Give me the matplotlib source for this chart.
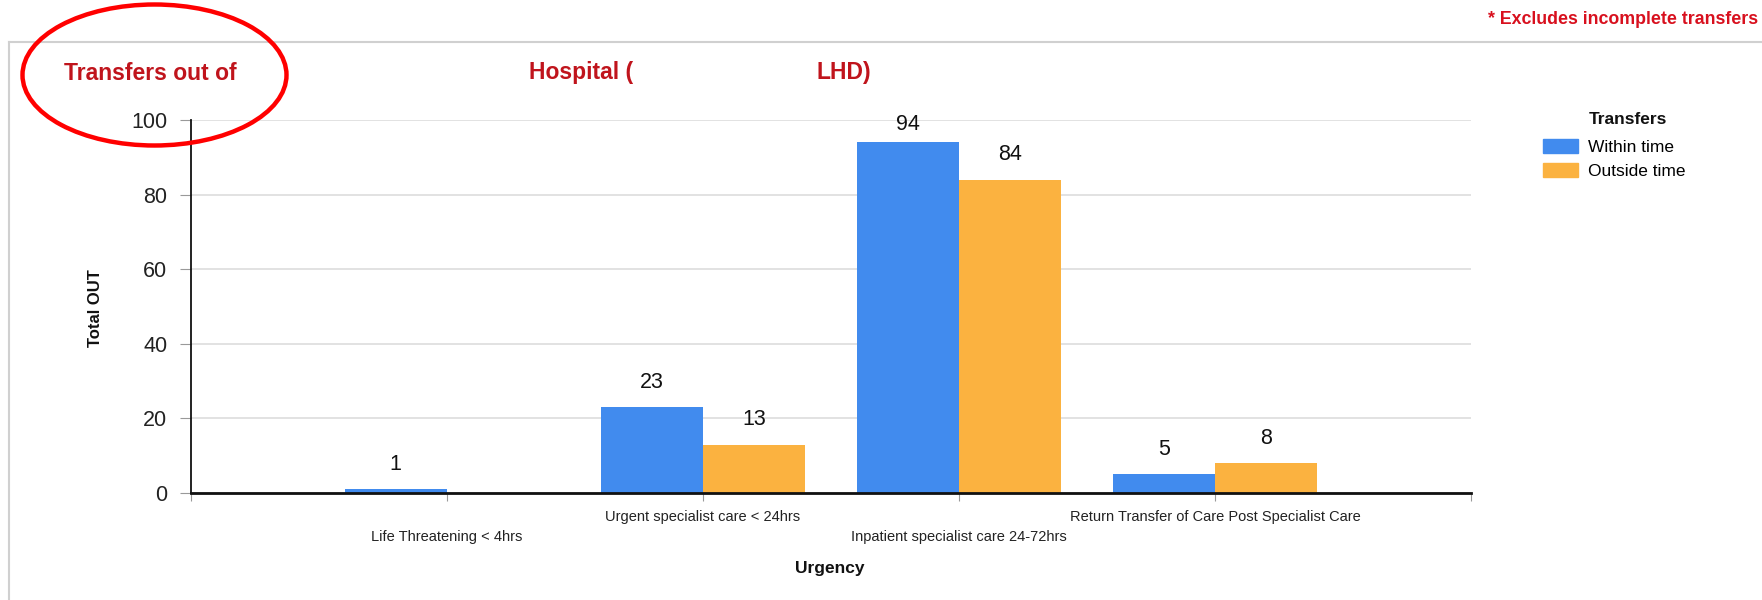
import matplotlib
matplotlib.use("Agg")
import matplotlib.pyplot as plt
import numpy as np
from matplotlib.patches import Ellipse
from matplotlib.lines import Line2D

plt.rcParams['font.family'] = ['Liberation Sans', 'DejaVu Sans']

categories = ["Life Threatening < 4hrs", "Urgent specialist care < 24hrs",
              "Inpatient specialist care 24-72hrs", "Return Transfer of Care Post Specialist Care"]
within_time = [1, 23, 94, 5]
outside_time = [0, 13, 84, 8]
series_names = ["Within time", "Outside time"]
yticks = [0, 20, 40, 60, 80, 100]

blue = '#418BEE'
orange = '#FBB240'

fig = plt.figure(figsize=(17.62, 6.0), dpi=100)
ax = fig.add_axes([191/1762, 1-493/600, (1471-191)/1762, (493-120)/600])

x = np.arange(len(categories))
w = 0.4
b1 = ax.bar(x - w/2, within_time, w, color=blue, zorder=3)
b2 = ax.bar(x + w/2, outside_time, w, color=orange, zorder=3)

for bars, vals in ((b1, within_time), (b2, outside_time)):
    for rect, v in zip(bars, vals):
        if v == 0:
            continue
        off = 18 if v < 90 else 13
        ax.annotate(str(v), (rect.get_x() + rect.get_width()/2, v),
                    xytext=(0, off), textcoords='offset points',
                    ha='center', va='center', fontsize=15.5, color='#111111',
                    annotation_clip=False)

ax.set_xlim(-1, len(categories))
ax.set_ylim(0, 100)
ax.set_yticks(yticks)
ax.set_yticklabels([str(t) for t in yticks], fontsize=15.5, color='#222222')
ax.grid(axis='y', color='#dddddd', linewidth=1.2, zorder=0)
ax.tick_params(axis='y', length=8, color='#999999', pad=9)

# x ticks: marks at boundaries and centers, staggered labels
ax.xaxis.remove_overlapping_locs = False
major_pos = [-1] + list(x) + [len(categories)]
major_labels = [''] + [c if i % 2 == 1 else '' for i, c in enumerate(categories)] + ['']
ax.set_xticks(major_pos)
ax.set_xticklabels(major_labels, fontsize=10.5, color='#222222')
ax.tick_params(axis='x', which='major', length=6, color='#999999', pad=6)
minor_pos = [p for i, p in enumerate(x) if i % 2 == 0]
ax.set_xticks(minor_pos, minor=True)
ax.set_xticklabels([categories[i] for i in range(len(categories)) if i % 2 == 0],
                   minor=True, fontsize=10.5, color='#222222')
ax.tick_params(axis='x', which='minor', length=0, pad=27)

for s in ('top', 'right'):
    ax.spines[s].set_visible(False)
ax.spines['left'].set_color('#111111')
ax.spines['left'].set_linewidth(1.3)
ax.spines['bottom'].set_color('#111111')
ax.spines['bottom'].set_linewidth(2.0)
ax.spines['left'].set_zorder(4)
ax.spines['bottom'].set_zorder(4)

# axis titles
fig.text(96/1762, 1-308/600, "Total OUT", rotation=90, ha='center', va='center',
         fontsize=12, fontweight='bold', color='#111111')
fig.text(830/1762, 1-568/600, "Urgency", ha='center', va='center',
         fontsize=12.5, fontweight='bold', color='#111111')

# legend
handles = [plt.Rectangle((0, 0), 1, 1, color=blue), plt.Rectangle((0, 0), 1, 1, color=orange)]
fig.text(1589/1762, 1-120/600, "Transfers", ha='left', va='center',
         fontsize=12.5, fontweight='bold', color='#111111')
leg = fig.legend(handles, series_names, loc='upper left',
                 bbox_to_anchor=(1543/1762, 1-139/600), frameon=False,
                 fontsize=12.5, handlelength=2.0, handleheight=0.9,
                 handletextpad=0.6, labelspacing=0.45, borderaxespad=0, borderpad=0)

# title pieces
title_color = '#C0141C'
for txt, xl in (("Transfers out of", 64), ("Hospital (", 529), ("LHD)", 816)):
    fig.text(xl/1762, 1-73/600, txt, ha='left', va='center', fontsize=16.5,
             fontweight='bold', color=title_color)

fig.text(1488/1762, 1-19/600, "* Excludes incomplete transfers", ha='left', va='center',
         fontsize=12.8, fontweight='bold', color='#D8101E')

# frame of the chart panel
fig.add_artist(Line2D([9/1762, 1.0], [1-42/600, 1-42/600], transform=fig.transFigure,
                      color='#d0d0d0', linewidth=1.5))
fig.add_artist(Line2D([9/1762, 9/1762], [0, 1-42/600], transform=fig.transFigure,
                      color='#d0d0d0', linewidth=1.5))

# red highlight ellipse
ell = Ellipse((154.5/1762, 1-75/600), 264/1762, 141/600, transform=fig.transFigure,
              fill=False, edgecolor='#FF0000', linewidth=3.2, zorder=10)
fig.add_artist(ell)

fig.savefig("out.png", dpi=100)
